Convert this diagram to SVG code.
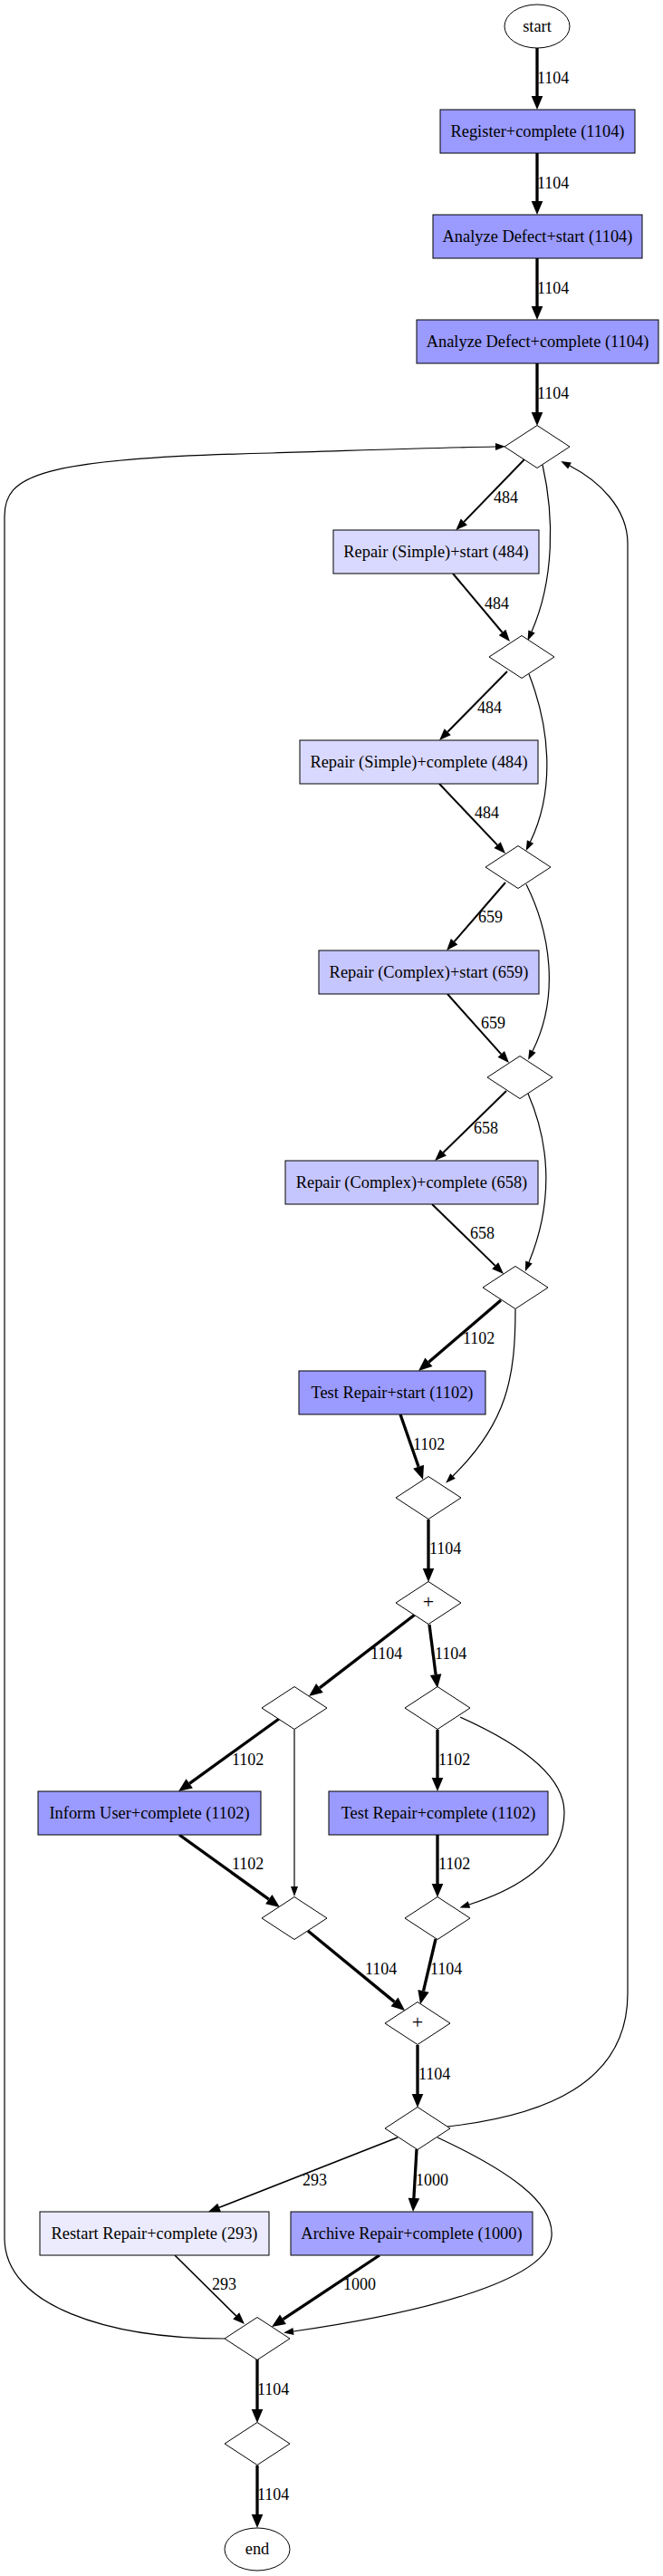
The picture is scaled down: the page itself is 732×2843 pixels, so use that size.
<svg xmlns="http://www.w3.org/2000/svg" width="732" height="2843" viewBox="0 0 732 2843">
<style>
text{font-family:"Liberation Serif","Times New Roman",serif;fill:#000}
.nt{font-size:18.4px;text-anchor:middle}
.lb{font-size:18px}
.pl{font-size:22px;text-anchor:middle}
.box{stroke:#000;stroke-width:1}
.dia{fill:#fff;stroke:#000;stroke-width:1}
.ell{fill:#fff;stroke:#000;stroke-width:1}
.e{fill:none;stroke:#000}
.tk{stroke-width:3.3;marker-end:url(#aTk)}
.md{stroke-width:2;marker-end:url(#aMd)}
.lo{stroke-width:1.6;marker-end:url(#aMd)}
.tn{stroke-width:1.2;marker-end:url(#aTn)}
.f1104{fill:#9a9aff}.f1000{fill:#a3a3ff}.f659{fill:#c6c6ff}.f484{fill:#d9d9ff}.f293{fill:#ebebfd}
</style>
<defs>
<marker id="aTk" markerUnits="userSpaceOnUse" orient="auto" refX="0" refY="0" markerWidth="16" markerHeight="14" overflow="visible"><path d="M0,-6.3 L15,0 L0,6.3 Z" fill="#000"/></marker>
<marker id="aMd" markerUnits="userSpaceOnUse" orient="auto" refX="0" refY="0" markerWidth="14" markerHeight="12" overflow="visible"><path d="M0,-5 L13,0 L0,5 Z" fill="#000"/></marker>
<marker id="aTn" markerUnits="userSpaceOnUse" orient="auto" refX="0" refY="0" markerWidth="12" markerHeight="10" overflow="visible"><path d="M0,-4 L11,0 L0,4 Z" fill="#000"/></marker>
</defs>
<rect width="732" height="2843" fill="#fff"/>
<g id="connectors">
<path class="e tk" d="M593,53 L593,106"/><text class="lb" x="593" y="92">1104</text>
<path class="e tk" d="M593,169 L593,222"/><text class="lb" x="593" y="208">1104</text>
<path class="e tk" d="M593,285 L593,338"/><text class="lb" x="593" y="324">1104</text>
<path class="e tk" d="M593,401 L593,455"/><text class="lb" x="593" y="440">1104</text>
<path class="e md" d="M579,507 L512.3,575.9"/><text class="lb" x="545" y="555">484</text>
<path class="e tn" d="M599,513 C612,570 612,640 587,697"/>
<path class="e md" d="M500,633 L554.6,698"/><text class="lb" x="535" y="672">484</text>
<path class="e md" d="M560,741 L494.2,807.8"/><text class="lb" x="527" y="787">484</text>
<path class="e tn" d="M584,744 C606,800 614,870 585.5,929"/>
<path class="e md" d="M485,865 L549.1,932.6"/><text class="lb" x="524" y="903">484</text>
<path class="e md" d="M558,974 L501.6,1039.2"/><text class="lb" x="528" y="1018">659</text>
<path class="e tn" d="M581,976 C608,1030 618,1100 588,1160"/>
<path class="e md" d="M494,1097 L553.3,1163.3"/><text class="lb" x="531" y="1135">659</text>
<path class="e md" d="M559,1204 L489.4,1272"/><text class="lb" x="523" y="1251">658</text>
<path class="e tn" d="M583,1207 C604,1255 614,1320 584,1393"/>
<path class="e md" d="M477,1329 L546.7,1396.9"/><text class="lb" x="519" y="1367">658</text>
<path class="e tk" d="M553,1435 L473.4,1503.3"/><text class="lb" x="511" y="1483">1102</text>
<path class="e tn" d="M569,1445 C569,1520 560,1570 500,1629"/>
<path class="e tk" d="M442,1561 L462.1,1618.8"/><text class="lb" x="456" y="1600">1102</text>
<path class="e tk" d="M473,1677 L473,1731"/><text class="lb" x="474" y="1715">1104</text>
<path class="e tk" d="M458,1782 L352.9,1862.9"/><text class="lb" x="409" y="1831">1104</text>
<path class="e tk" d="M474,1793 L481.1,1848.1"/><text class="lb" x="480" y="1831">1104</text>
<path class="e tk" d="M308,1897 L209.2,1968.3"/><text class="lb" x="256" y="1948">1102</text>
<path class="e tn" d="M325,1909 L325,2082"/>
<path class="e tk" d="M483,1909 L483,1962"/><text class="lb" x="484" y="1948">1102</text>
<path class="e tn" d="M508,1895 C575,1925 623,1960 623,2000 C623,2050 580,2082 518,2102"/>
<path class="e tk" d="M198,2025 L296.8,2096.2"/><text class="lb" x="256" y="2063">1102</text>
<path class="e tk" d="M483,2025 L483,2079"/><text class="lb" x="484" y="2063">1102</text>
<path class="e tk" d="M340,2131 L435.5,2209.4"/><text class="lb" x="403" y="2179">1104</text>
<path class="e tk" d="M481,2140 L467.5,2197.4"/><text class="lb" x="475" y="2179">1104</text>
<path class="e tk" d="M461,2257 L461,2311"/><text class="lb" x="462" y="2295">1104</text>
<path class="e lo" d="M439,2359 L242.1,2436.3"/><text class="lb" x="334" y="2412">293</text>
<path class="e tk" d="M460,2372 L456.9,2426"/><text class="lb" x="459" y="2412">1000</text>
<path class="e tn" d="M483,2359 C560,2395 612,2430 609,2468 C605,2520 450,2555 324,2573"/>
<path class="e lo" d="M193,2489 L260.7,2555.9"/><text class="lb" x="234" y="2527">293</text>
<path class="e tk" d="M419,2489 L312.5,2559.7"/><text class="lb" x="379" y="2527">1000</text>
<path class="e tk" d="M284,2604 L284,2659"/><text class="lb" x="284" y="2643">1104</text>
<path class="e tk" d="M284,2721 L284,2775"/><text class="lb" x="284" y="2759">1104</text>
<path class="e tn" d="M494,2347 C600,2335 693,2300 693,2200 L693,600 C693,560 660,530 629,514"/>
<path class="e tn" d="M248,2581 C120,2581 5,2545 5,2470 L5,570 C5,525 40,506 300,500 C400,497 480,494 547,493"/>
</g>
<g id="n_start"><ellipse class="ell" cx="593" cy="29" rx="36" ry="24"/><text class="nt" x="593" y="35">start</text></g>
<g id="n_register"><rect class="box f1104" x="486" y="121" width="215" height="48"/><text class="nt" x="593.5" y="151">Register+complete (1104)</text></g>
<g id="n_analyze_start"><rect class="box f1104" x="478" y="237" width="231" height="48"/><text class="nt" x="593.5" y="267">Analyze Defect+start (1104)</text></g>
<g id="n_analyze_complete"><rect class="box f1104" x="460" y="353" width="267" height="48"/><text class="nt" x="593.5" y="383">Analyze Defect+complete (1104)</text></g>
<g id="n_d1"><polygon class="dia" points="593,469.5 629,493 593,516.5 557,493"/></g>
<g id="n_rss"><rect class="box f484" x="368" y="585" width="227" height="48"/><text class="nt" x="481.5" y="615">Repair (Simple)+start (484)</text></g>
<g id="n_d2"><polygon class="dia" points="576,701.5 612,725 576,748.5 540,725"/></g>
<g id="n_rsc"><rect class="box f484" x="331" y="817" width="263" height="48"/><text class="nt" x="462.5" y="847">Repair (Simple)+complete (484)</text></g>
<g id="n_d3"><polygon class="dia" points="572,933.5 608,957 572,980.5 536,957"/></g>
<g id="n_rcs"><rect class="box f659" x="352" y="1049" width="243" height="48"/><text class="nt" x="473.5" y="1079">Repair (Complex)+start (659)</text></g>
<g id="n_d4"><polygon class="dia" points="574,1165.5 610,1189 574,1212.5 538,1189"/></g>
<g id="n_rcc"><rect class="box f659" x="315" y="1281" width="279" height="48"/><text class="nt" x="454.5" y="1311">Repair (Complex)+complete (658)</text></g>
<g id="n_d5"><polygon class="dia" points="569,1397.5 605,1421 569,1444.5 533,1421"/></g>
<g id="n_trs"><rect class="box f1104" x="330" y="1513" width="206" height="48"/><text class="nt" x="433" y="1543">Test Repair+start (1102)</text></g>
<g id="n_d6"><polygon class="dia" points="473,1629.5 509,1653 473,1676.5 437,1653"/></g>
<g id="n_p1"><polygon class="dia" points="473,1745.5 509,1769 473,1792.5 437,1769"/><text class="pl" x="473" y="1775">+</text></g>
<g id="n_l1"><polygon class="dia" points="325,1861.5 361,1885 325,1908.5 289,1885"/></g>
<g id="n_r1"><polygon class="dia" points="483,1861.5 519,1885 483,1908.5 447,1885"/></g>
<g id="n_iu"><rect class="box f1104" x="42" y="1977" width="246" height="48"/><text class="nt" x="165" y="2007">Inform User+complete (1102)</text></g>
<g id="n_trc"><rect class="box f1104" x="363" y="1977" width="242" height="48"/><text class="nt" x="484" y="2007">Test Repair+complete (1102)</text></g>
<g id="n_l2"><polygon class="dia" points="325,2093.5 361,2117 325,2140.5 289,2117"/></g>
<g id="n_r2"><polygon class="dia" points="483,2093.5 519,2117 483,2140.5 447,2117"/></g>
<g id="n_p2"><polygon class="dia" points="461,2209.5 497,2233 461,2256.5 425,2233"/><text class="pl" x="461" y="2239">+</text></g>
<g id="n_s"><polygon class="dia" points="461,2325.5 497,2349 461,2372.5 425,2349"/></g>
<g id="n_restart"><rect class="box f293" x="44" y="2441" width="253" height="48"/><text class="nt" x="170.5" y="2471">Restart Repair+complete (293)</text></g>
<g id="n_archive"><rect class="box f1000" x="321" y="2441" width="267" height="48"/><text class="nt" x="454.5" y="2471">Archive Repair+complete (1000)</text></g>
<g id="n_j"><polygon class="dia" points="284,2557.5 320,2581 284,2604.5 248,2581"/></g>
<g id="n_k"><polygon class="dia" points="284,2673.5 320,2697 284,2720.5 248,2697"/></g>
<g id="n_end"><ellipse class="ell" cx="284" cy="2813.5" rx="36" ry="23.5"/><text class="nt" x="284" y="2819">end</text></g>
</svg>
